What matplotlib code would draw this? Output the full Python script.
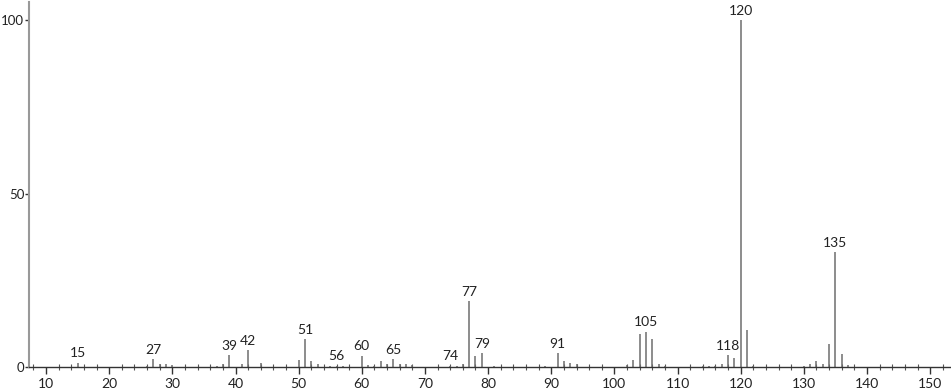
import matplotlib
matplotlib.use("Agg")
import matplotlib.pyplot as plt
from matplotlib.ticker import MultipleLocator

# m/z values and relative intensities
mz = [15, 26, 27, 28, 29, 30, 37, 38, 39, 41, 42, 44, 50, 51, 52, 53, 55, 56, 57,
      60, 61, 62, 63, 64, 65, 66, 67, 68, 74, 75, 76, 77, 78, 79, 81, 89, 91, 92,
      93, 94, 102, 103, 104, 105, 106, 107, 108, 114, 115, 116, 117, 118, 119,
      120, 121, 122, 130, 131, 132, 133, 134, 135, 136, 137]
intensity = [1.2, 0.4, 2.2, 0.9, 0.9, 0.5, 0.3, 0.9, 3.4, 0.9, 4.8, 1.2, 2.0, 8.0,
             1.7, 0.8, 0.3, 0.4, 0.3, 3.2, 0.5, 0.4, 1.8, 1.0, 2.3, 1.0, 1.0, 0.5,
             0.4, 0.3, 0.8, 19.0, 3.3, 4.0, 0.3, 0.3, 4.0, 1.8, 1.2, 0.8, 0.5, 2.0,
             9.4, 10.2, 8.1, 0.9, 0.4, 0.3, 0.3, 0.4, 0.9, 3.4, 2.7, 100.0, 10.7,
             0.3, 0.3, 0.8, 1.8, 0.9, 6.6, 33.1, 3.8, 0.5]
labeled = [15, 27, 39, 42, 51, 56, 60, 65, 74, 77, 79, 91, 105, 118, 120, 135]

fig = plt.figure(figsize=(9.51, 3.89), dpi=100)
ax = fig.add_axes([29 / 951, 22 / 389, 922 / 951, 365 / 389])

ax.vlines(mz, 0, intensity, color="#6e6e6e", linewidth=1.1)

for m, v in zip(mz, intensity):
    if m in labeled:
        ax.annotate(str(m), (m, v), xytext=(0, 2.5), textcoords="offset points",
                    ha="center", va="bottom", fontsize=10, family="Lato",
                    color="#222222", clip_on=False)

ax.set_xlim(7.3, 153.3)
ax.set_ylim(0, 105.2)
ax.set_yticks([0, 50, 100])
ax.xaxis.set_major_locator(MultipleLocator(10))
ax.xaxis.set_minor_locator(MultipleLocator(2))

for s in ["top", "right"]:
    ax.spines[s].set_visible(False)
ax.spines["left"].set_color("#999999")
ax.spines["left"].set_linewidth(1.5)
ax.spines["bottom"].set_color("#333333")
ax.spines["bottom"].set_linewidth(1)

ax.tick_params(axis="x", which="major", direction="out", length=5, width=1,
               color="#333333", labelsize=10, pad=3)
ax.tick_params(axis="x", which="minor", direction="inout", length=4, width=0.8,
               color="#555555")
ax.tick_params(axis="y", direction="out", length=3, width=1, color="#333333",
               labelsize=9.5, pad=0.5)
for lab in ax.get_xticklabels() + ax.get_yticklabels():
    lab.set_family("Lato")
    lab.set_color("#222222")

fig.savefig("out.png", dpi=100)
